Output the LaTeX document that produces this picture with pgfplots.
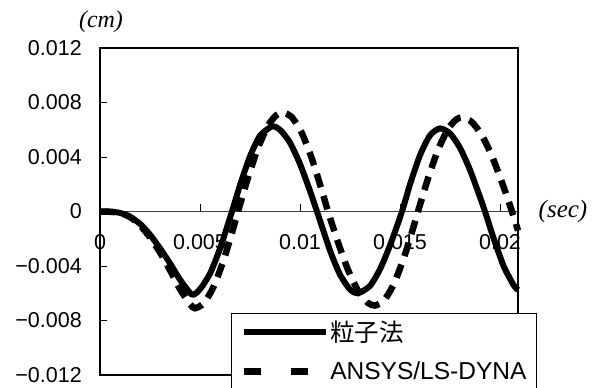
\documentclass[border=0pt]{standalone}
\usepackage{fontspec}
\setmainfont{Liberation Sans}
\newfontfamily\cjk{Noto Sans CJK JP}
\newfontfamily\tms{Liberation Serif}
\usepackage{pgfplots}
\usepackage{pgfplotstable}
\pgfplotsset{compat=1.18}
\pgfplotstableread{
t y
0 0
0.0005 -0.00002
0.001 -0.0001
0.0015 -0.0004
0.002 -0.0009
0.0025 -0.0017
0.003 -0.0027
0.0035 -0.0038
0.004 -0.0050
0.0046 -0.0061
0.005 -0.0057
0.0055 -0.00456
0.006 -0.00272
0.0066 0
0.007 0.00193
0.0075 0.00405
0.008 0.00556
0.0086 0.00624
0.009 0.0060
0.0095 0.00505
0.010 0.00349
0.0105 0.00151
0.01085 0
0.0115 -0.00286
0.012 -0.00463
0.0125 -0.00572
0.0129 -0.0060
0.0135 -0.00546
0.014 -0.00424
0.0145 -0.00249
0.0151 0
0.0155 0.00199
0.016 0.00413
0.0165 0.00559
0.017 0.0061
0.0175 0.00573
0.018 0.00467
0.0185 0.00305
0.019 0.00106
0.01925 0
0.0197 -0.00205
0.0202 -0.00407
0.0207 -0.00545
0.0209 -0.00577
}\particle
\pgfplotstableread{
t y
0 0
0.0005 -0.00002
0.001 -0.0001
0.0015 -0.0004
0.002 -0.0010
0.0025 -0.0019
0.003 -0.0030
0.0035 -0.0043
0.004 -0.0057
0.0045 -0.0068
0.00475 -0.0071
0.0052 -0.00672
0.0057 -0.00546
0.0062 -0.00348
0.0066 -0.00155
0.0069 0
0.0074 0.00249
0.0079 0.00467
0.0084 0.0063
0.0088 0.00705
0.00915 0.00727
0.0096 0.00691
0.0101 0.00573
0.0106 0.00385
0.0111 0.00151
0.0114 0
0.0119 -0.00226
0.0124 -0.00428
0.0129 -0.00581
0.0134 -0.00671
0.01375 -0.0069
0.0142 -0.00653
0.0147 -0.0053
0.0152 -0.00337
0.0156 -0.0015
0.0159 0
0.0164 0.00242
0.0169 0.00452
0.0174 0.00606
0.0178 0.00674
0.0181 0.0069
0.0186 0.00656
0.0191 0.00558
0.0196 0.00406
0.0201 0.00213
0.0206 0
0.0209 -0.0014
}\dyna
\begin{document}
\begin{tikzpicture}
\begin{axis}[
  at={(0,0)}, anchor=south west,
  set layers,
  scale only axis, width=418pt, height=327pt,
  xmin=0, xmax=0.0209, ymin=-0.012, ymax=0.012,
  scaled x ticks=false, scaled y ticks=false,
  axis x line=middle, axis y line=left,
  axis line style={-},
  x axis line style={line width=0.8pt, black!75},
  y axis line style={line width=1.5pt, black},
  xtick={0,0.005,0.01,0.015,0.02},
  xticklabels={0,0.005,0.01,0.015,0.02},
  ytick={-0.012,-0.008,-0.004,0,0.004,0.008,0.012},
  yticklabels={−0.012,−0.008,−0.004,0,0.004,0.008,0.012},
  hide obscured x ticks=false, hide obscured y ticks=false,
  tick align=inside, major tick length=7pt,
  tick style={black, line width=0.8pt},
  xticklabel style={anchor=north, inner sep=0pt, yshift=-23pt, font=\fontsize{21.5}{21.5}\selectfont},
  yticklabel style={anchor=east, inner sep=0pt, xshift=-18pt, font=\fontsize{21.5}{21.5}\selectfont},
  clip=false,
  legend cell align=left,
  legend style={at={(0.313,0.19)}, anchor=north west, draw=black, line width=1pt, fill=white,
    font=\fontsize{24.5}{24.5}\selectfont, inner xsep=9pt, inner ysep=7pt, row sep=16pt,
    nodes={inner sep=1pt},
    /tikz/every even column/.append style={column sep=6pt}},
]
\addplot[black, line width=6pt, smooth, tension=0.4, line join=round,
  legend image code/.code={\draw[black,line width=6pt] (0pt,0pt) -- (82pt,0pt);}]
  table[x=t,y=y] {\particle};
\addlegendentry{\cjk 粒子法}
\addplot[black, line width=6.5pt, smooth, tension=0.4, dash pattern=on 14pt off 9pt,
  legend image code/.code={\draw[black,line width=7pt,dash pattern=on 17pt off 30pt] (0pt,0pt) -- (82pt,0pt);}]
  table[x=t,y=y] {\dyna};
\addlegendentry{ANSYS/LS-DYNA}
\draw[line width=1.5pt] (rel axis cs:0,0) rectangle (rel axis cs:1,1);
\node[font=\tms\itshape\fontsize{24}{24}\selectfont] at ([xshift=1pt,yshift=26pt]rel axis cs:0,1) {(cm)};
\node[font=\tms\itshape\fontsize{25}{25}\selectfont] at ([xshift=45pt]axis cs:0.0209,0) {(sec)};
\end{axis}
\pgfresetboundingbox
\useasboundingbox (-100pt,-13pt) rectangle (497pt,375pt);
\end{tikzpicture}
\end{document}
